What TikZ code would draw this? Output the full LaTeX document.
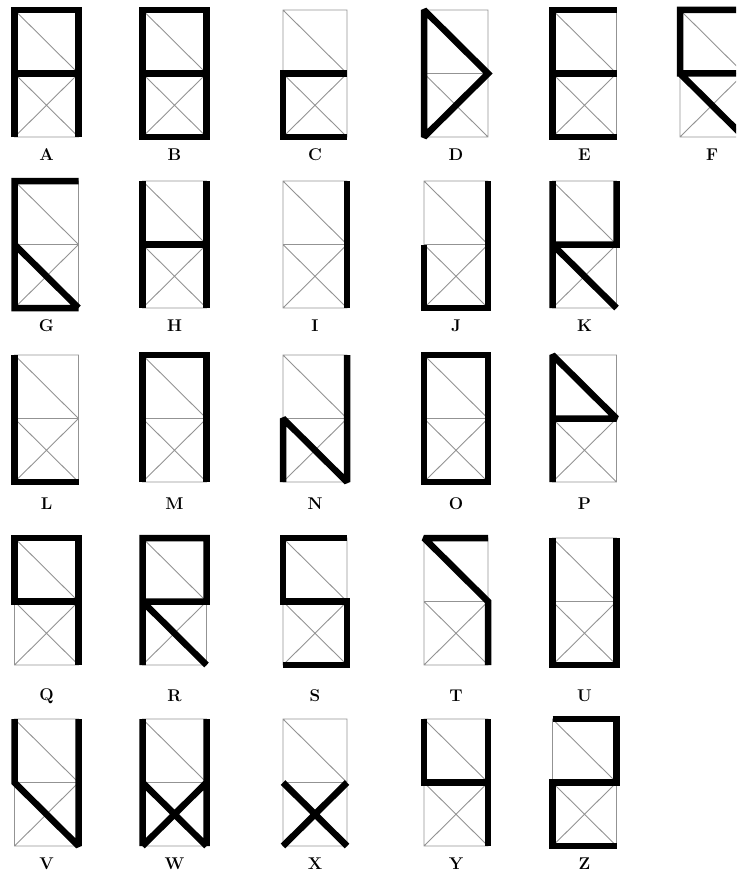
\documentclass[tikz,border=0pt]{standalone}
\begin{document}
\begin{tikzpicture}[x=1pt,y=-1pt,
  thinline/.style={draw=gray!85,line width=0.9pt},
  thickline/.style={draw=black,line width=6.5pt,line join=miter,miter limit=2,line cap=butt},
  lab/.style={font=\fontsize{17}{17}\selectfont\bfseries,inner sep=0pt}]
\useasboundingbox (0,0) rectangle (736,880);
\clip (0,0) rectangle (736,880);
\newcommand\glyph[5]{%
  \begin{scope}[shift={(#1,#2)}]
    \coordinate (t0) at (0,0);   \coordinate (t1) at (64,0);
    \coordinate (m0) at (0,63.5);  \coordinate (m1) at (64,63.5);
    \coordinate (b0) at (0,127); \coordinate (b1) at (64,127);
    \draw[thinline] (t0) rectangle (b1) (m0) -- (m1) (t0) -- (m1) (m0) -- (b1) (m1) -- (b0);
    \draw[thickline] #5;
    \node[lab] (lab#3) at (32,#4) {#3};
  \end{scope}}
% row 1
\glyph{14.5}{10}{A}{145}{(b0) -- (t0) -- (t1) -- (b1) (m0) -- (m1)}
\glyph{142.5}{10}{B}{145}{(b0) -- (t0) -- (t1) -- (b1) -- cycle (m0) -- (m1)}
\glyph{283}{10}{C}{145}{(m1) -- (m0) -- (b0) -- (b1)}
\glyph{424}{10}{D}{145}{(t0) -- (m1) -- (b0) -- cycle}
\glyph{552.5}{10}{E}{145}{(t1) -- (t0) -- (b0) -- (b1) (m0) -- (m1)}
\glyph{680}{10}{F}{145}{(t1) -- (t0) -- (m0) -- (m1) (m0) -- (b1)}
% row 2
\glyph{14.5}{181}{G}{145}{(t1) -- (t0) -- (b0) -- (b1) (m0) -- (b1)}
\glyph{142.5}{181}{H}{145}{(t0) -- (b0) (t1) -- (b1) (m0) -- (m1)}
\glyph{283}{181}{I}{145}{(t1) -- (b1)}
\glyph{424}{181}{J}{145}{(t1) -- (b1) -- (b0) -- (m0)}
\glyph{552.5}{181}{K}{145}{(t0) -- (b0) (t1) -- (m1) -- (m0) (m0) -- (b1)}
% row 3
\glyph{14.5}{355}{L}{149}{(t0) -- (b0) -- (b1)}
\glyph{142.5}{355}{M}{149}{(b0) -- (t0) -- (t1) -- (b1)}
\glyph{283}{355}{N}{149}{(b0) -- (m0) -- (b1) -- (t1)}
\glyph{424}{355}{O}{149}{(t0) -- (t1) -- (b1) -- (b0) -- cycle}
\glyph{552.5}{355}{P}{149}{(b0) -- (t0) -- (m1) -- (m0)}
% row 4
\glyph{14.5}{538}{Q}{158}{(m1) -- (m0) -- (t0) -- (t1) -- (b1)}
\glyph{142.5}{538}{R}{158}{(b0) -- (t0) -- (t1) -- (m1) -- (m0) -- (b1)}
\glyph{283}{538}{S}{158}{(t1) -- (t0) -- (m0) -- (m1) -- (b1) -- (b0)}
\glyph{424}{538}{T}{158}{(t1) -- (t0) -- (m1) -- (b1)}
\glyph{552.5}{538}{U}{158}{(t0) -- (b0) -- (b1) -- (t1)}
% row 5
\glyph{14.5}{719}{V}{145}{(t0) -- (m0) -- (b1) -- (t1)}
\glyph{142.5}{719}{W}{145}{(t0) -- (b0) (t1) -- (b1) (m0) -- (b1) (m1) -- (b0)}
\glyph{283}{719}{X}{145}{(m0) -- (b1) (m1) -- (b0)}
\glyph{424}{719}{Y}{145}{(t0) -- (m0) -- (m1) (t1) -- (b1)}
\glyph{552.5}{719}{Z}{145}{(t0) -- (t1) -- (m1) -- (m0) -- (b0) -- (b1)}
\end{tikzpicture}
\end{document}
